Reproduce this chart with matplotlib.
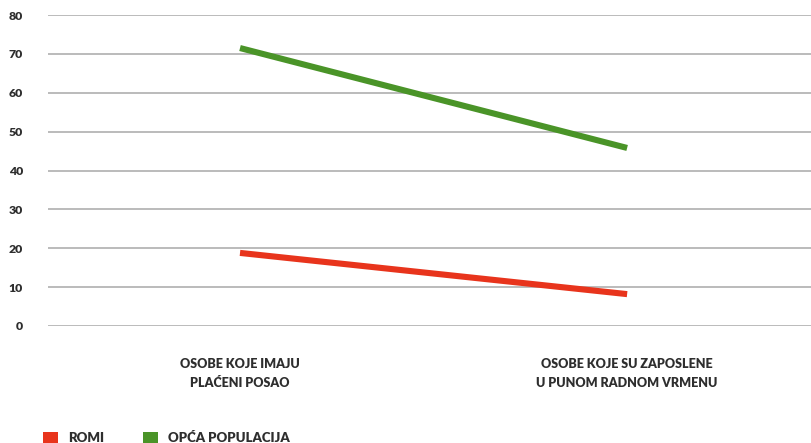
import matplotlib
matplotlib.use("Agg")
import matplotlib.pyplot as plt
from matplotlib.patches import Patch

categories = ["OSOBE KOJE IMAJU\nPLAĆENI POSAO", "OSOBE KOJE SU ZAPOSLENE\nU PUNOM RADNOM VRMENU"]
romi = [18.8, 8.2]
opca = [71.5, 45.8]
series_names = ["ROMI", "OPĆA POPULACIJA"]
yticks = [0, 10, 20, 30, 40, 50, 60, 70, 80]

RED = "#e8341c"
GREEN = "#4a9428"
TXT = "#2e2e2e"

plt.rcParams['font.family'] = ['Lato', 'DejaVu Sans']

W, H = 811, 443
fig = plt.figure(figsize=(W/100, H/100), dpi=100)
ax = fig.add_axes([48/W, 1-326/H, (W-48)/W, (326-15)/H])

x = list(range(len(categories)))
ax.plot(x, romi, color=RED, lw=4.4, solid_capstyle='butt', zorder=3)
ax.plot(x, opca, color=GREEN, lw=4.4, solid_capstyle='butt', zorder=3)

ax.set_ylim(0, 80)
ax.set_xlim(-0.496, 1.475)
ax.set_yticks(yticks)
ax.set_yticklabels([str(v) for v in yticks], fontsize=8.8, fontweight='heavy', color=TXT)
ax.set_xticks(x)
ax.set_xticklabels(categories, fontsize=9, fontweight='heavy', color=TXT, linespacing=1.7)
ax.tick_params(axis='y', length=0, pad=18)
ax.tick_params(axis='x', length=0, pad=23)
ax.grid(axis='y', color='#a8a8a8', lw=1.1)
ax.set_axisbelow(True)
for s in ax.spines.values():
    s.set_visible(False)

handles = [Patch(facecolor=RED, edgecolor='none'), Patch(facecolor=GREEN, edgecolor='none')]
leg = fig.legend(handles, series_names, loc='center left', bbox_to_anchor=(38/W, 5/H),
                 ncol=2, frameon=False, handlelength=1.1, handleheight=1.1,
                 handletextpad=0.75, columnspacing=3.0, borderaxespad=0,
                 prop={'family': ['Lato', 'DejaVu Sans'], 'weight': 'heavy', 'size': 9.5})
for t in leg.get_texts():
    t.set_color(TXT)

fig.savefig("out.png", dpi=100)
